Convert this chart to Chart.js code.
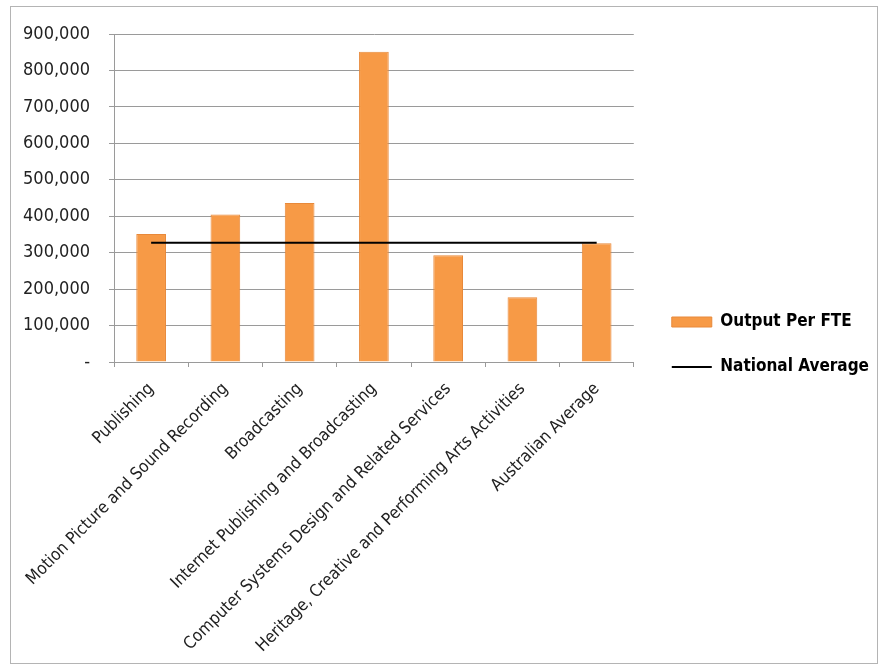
<!DOCTYPE html>
<html>
<head>
<meta charset="utf-8">
<title>Output Per FTE</title>
<script src="https://cdn.jsdelivr.net/npm/chart.js@4.4.1/dist/chart.umd.min.js"></script>
<style>
  html, body { margin: 0; padding: 0; background: #fff; }
  #wrap { position: relative; width: 883px; height: 670px; }
  #frame {
    position: absolute; left: 10px; top: 6px; width: 866px; height: 656px;
    border: 1px solid #b4b4b4; pointer-events: none;
  }
  canvas { position: absolute; left: 0; top: 0; }
</style>
</head>
<body>
<div id="wrap">
  <canvas id="chart" width="883" height="670"></canvas>
  <div id="frame"></div>
</div>
<script>
// ============================================================
// DATA
// ============================================================

const categories = [
  "Publishing",
  "Motion Picture and Sound Recording",
  "Broadcasting",
  "Internet Publishing and Broadcasting",
  "Computer Systems Design and Related Services",
  "Heritage, Creative and Performing Arts Activities",
  "Australian Average"
];
const outputPerFte    = [351000, 405000, 436000, 851000, 293000, 178000, 326000];
const nationalAverage = [327000, 327000, 327000, 327000, 327000, 327000, 327000];
const yTicks          = [0, 100000, 200000, 300000, 400000, 500000, 600000, 700000, 800000, 900000];

// ============================================================
// CHART
// ============================================================

const FONT = "'DejaVu Sans Condensed', 'Liberation Sans Narrow', sans-serif";
const GRID = "#9a9a9a";
const PAD_BOTTOM = 15;

new Chart(document.getElementById("chart"), {
  type: "bar",
  data: {
    labels: categories,
    datasets: [
      {
        label: "Output Per FTE",
        data: outputPerFte,
        backgroundColor: "#F79A46",
        borderColor: "#E8893A",
        borderWidth: 1,
        barPercentage: 0.5,
        categoryPercentage: 0.8,
        order: 2,
      },
      {
        label: "National Average",
        type: "line",
        data: nationalAverage,
        borderColor: "#000",
        backgroundColor: "#000",
        borderWidth: 2,
        pointRadius: 0,
        tension: 0,
        order: 1,
      },
    ],
  },
  options: {
    responsive: false,
    animation: false,
    layout: { padding: { top: 34, bottom: PAD_BOTTOM, left: 0, right: 4 } },
    plugins: {
      tooltip: { enabled: false },
      legend: {
        position: "right",
        maxWidth: 400,
        labels: {
          color: "#000",
          font: { family: FONT, size: 17, weight: "bold" },
          boxWidth: 40,
          boxHeight: 10,
          usePointStyle: true,
          pointStyleWidth: 40,
          padding: 28,
          sort: (a, b) => a.datasetIndex - b.datasetIndex,
          generateLabels(chart) {
            const items = Chart.defaults.plugins.legend.labels.generateLabels(chart);
            items.forEach(it => {
              it.pointStyle = it.datasetIndex === 0 ? "rect" : "line";
              if (it.datasetIndex === 1) it.lineWidth = 2;
            });
            return items;
          },
        },
      },
    },
    scales: {
      x: {
        grid: { display: true, drawOnChartArea: false, drawTicks: true, tickLength: 5, color: GRID, offset: true },
        border: { color: GRID, width: 1 },
        ticks: {
          color: "#222",
          font: { family: FONT, size: 17 },
          minRotation: 45,
          maxRotation: 45,
          padding: 12,
        },
        afterFit: s => { s.height = 670 - PAD_BOTTOM - 362; },
      },
      y: {
        min: 0,
        max: 900000,
        afterBuildTicks: s => { s.ticks = yTicks.map(v => ({ value: v })); },
        grid: { color: GRID, lineWidth: 1, tickLength: 5 },
        border: { color: GRID, width: 1 },
        ticks: {
          color: "#222",
          font: { family: FONT, size: 18 },
          padding: 19,
          callback: v => v === 0 ? "-" : v.toLocaleString("en-US"),
        },
        afterFit: s => { s.width = 114; },
      },
      gap: {
        position: "right",
        display: true,
        grid: { display: false },
        border: { display: false },
        ticks: { display: false },
        afterFit: s => { s.width = 10; },
      },
    },
  },
});
</script>
</body>
</html>
